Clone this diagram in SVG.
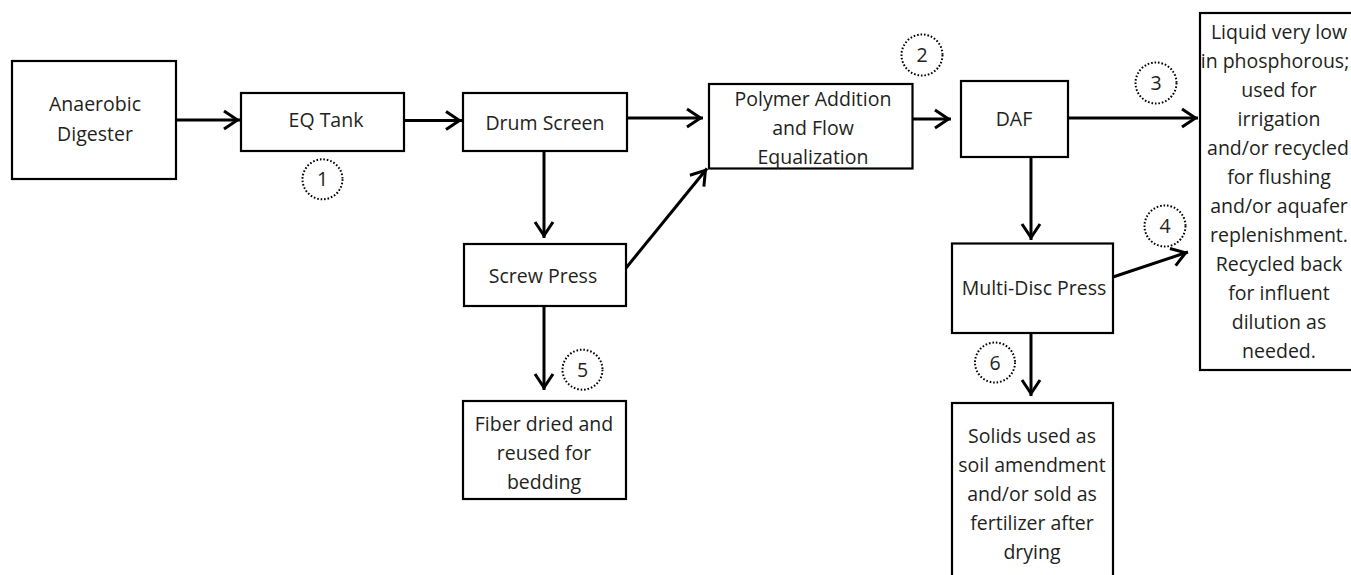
<svg xmlns="http://www.w3.org/2000/svg" width="1351" height="575" viewBox="0 0 1351 575">
<style>
.box{fill:#fff;stroke:#000;stroke-width:2.2}
.t{font-family:"Open Sans","Noto Sans",sans-serif;font-size:19.5px;fill:#231f20;text-anchor:middle}
.c{fill:none;stroke:#000;stroke-width:2;stroke-dasharray:1.6 1.9}
.ln{fill:none;stroke:#000;stroke-width:3;marker-end:url(#ah)}
</style>
<defs>
<marker id="ah" viewBox="-20 -11 22 22" refX="0" refY="0" markerWidth="22" markerHeight="22" markerUnits="userSpaceOnUse" orient="auto">
<path d="M-16,-9 L-2.5,0 L-16,9" fill="none" stroke="#000" stroke-width="3"/>
</marker>
</defs>
<rect width="1351" height="575" fill="#fff"/>
<g id="connectors">
<line class="ln" x1="176" y1="120" x2="240" y2="120"/>
<line class="ln" x1="404" y1="120.5" x2="462" y2="120.5"/>
<line class="ln" x1="627" y1="118" x2="703" y2="118"/>
<line class="ln" x1="544" y1="151" x2="544" y2="238"/>
<line class="ln" x1="626" y1="268" x2="707" y2="168.5"/>
<line class="ln" x1="544" y1="306" x2="544" y2="390"/>
<line class="ln" x1="912" y1="119" x2="951" y2="119"/>
<line class="ln" x1="1068" y1="118" x2="1198" y2="118"/>
<line class="ln" x1="1031" y1="157" x2="1031" y2="240"/>
<line class="ln" x1="1113" y1="277" x2="1188" y2="252"/>
<line class="ln" x1="1031" y1="333" x2="1031" y2="396"/>
</g>
<g id="anaerobic-digester">
<rect class="box" x="12" y="61" width="164" height="118"/>
<text class="t" x="95" y="111">Anaerobic</text>
<text class="t" x="95" y="141">Digester</text>
</g>
<g id="eq-tank">
<rect class="box" x="241" y="93" width="163" height="58"/>
<text class="t" x="326" y="127">EQ Tank</text>
</g>
<g id="drum-screen">
<rect class="box" x="463" y="93" width="164" height="58"/>
<text class="t" x="545" y="130">Drum Screen</text>
</g>
<g id="polymer">
<rect class="box" x="709" y="84" width="203.5" height="84.5"/>
<text class="t" x="813" y="106">Polymer Addition</text>
<text class="t" x="813" y="135">and Flow</text>
<text class="t" x="813" y="164">Equalization</text>
</g>
<g id="daf">
<rect class="box" x="961" y="81" width="107" height="76"/>
<text class="t" x="1014" y="126">DAF</text>
</g>
<g id="liquid">
<rect class="box" x="1200" y="13" width="170" height="357"/>
<text class="t" x="1279" y="39">Liquid very low</text>
<text class="t" x="1275" y="68">in phosphorous;</text>
<text class="t" x="1279" y="97">used for</text>
<text class="t" x="1279" y="126">irrigation</text>
<text class="t" x="1278" y="155">and/or recycled</text>
<text class="t" x="1279" y="184">for flushing</text>
<text class="t" x="1279" y="213">and/or aquafer</text>
<text class="t" x="1279" y="242">replenishment.</text>
<text class="t" x="1279" y="271">Recycled back</text>
<text class="t" x="1279" y="300">for influent</text>
<text class="t" x="1279" y="329">dilution as</text>
<text class="t" x="1279" y="358">needed.</text>
</g>
<g id="screw-press">
<rect class="box" x="464" y="244" width="162" height="62"/>
<text class="t" x="543" y="283">Screw Press</text>
</g>
<g id="fiber">
<rect class="box" x="463" y="401" width="163" height="98"/>
<text class="t" x="544" y="431">Fiber dried and</text>
<text class="t" x="544" y="460">reused for</text>
<text class="t" x="544" y="489">bedding</text>
</g>
<g id="multi-disc-press">
<rect class="box" x="952" y="243.5" width="161" height="89.5"/>
<text class="t" x="1034" y="295">Multi-Disc Press</text>
</g>
<g id="solids">
<rect class="box" x="952" y="403" width="161" height="190"/>
<text class="t" x="1032" y="443">Solids used as</text>
<text class="t" x="1032" y="472">soil amendment</text>
<text class="t" x="1032" y="501">and/or sold as</text>
<text class="t" x="1032" y="530">fertilizer after</text>
<text class="t" x="1032" y="559">drying</text>
</g>
<g id="marker-1">
<circle class="c" cx="322.5" cy="179.3" r="20"/>
<text class="t" x="322.5" y="186">1</text>
</g>
<g id="marker-2">
<circle class="c" cx="922" cy="55" r="20.5"/>
<text class="t" x="922" y="62">2</text>
</g>
<g id="marker-3">
<circle class="c" cx="1156" cy="83" r="20.5"/>
<text class="t" x="1156" y="90">3</text>
</g>
<g id="marker-4">
<circle class="c" cx="1165" cy="226" r="20.5"/>
<text class="t" x="1165" y="233">4</text>
</g>
<g id="marker-5">
<circle class="c" cx="582.5" cy="369.7" r="20"/>
<text class="t" x="582.5" y="377">5</text>
</g>
<g id="marker-6">
<circle class="c" cx="995" cy="362.5" r="20"/>
<text class="t" x="995" y="369.5">6</text>
</g>
</svg>
